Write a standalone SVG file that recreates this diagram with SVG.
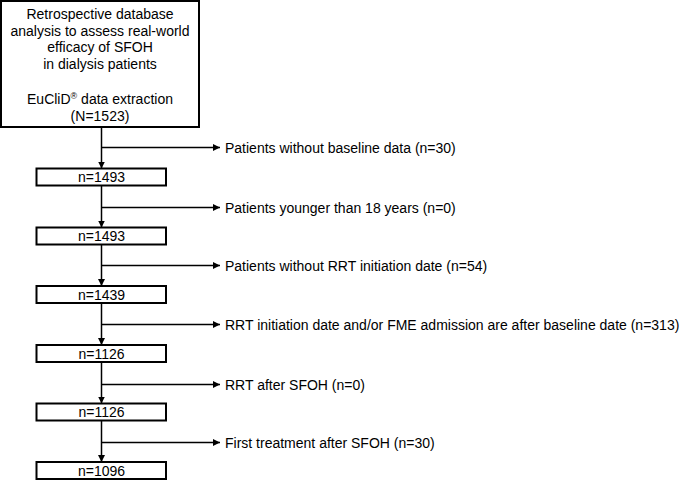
<svg xmlns="http://www.w3.org/2000/svg" width="685" height="481" viewBox="0 0 685 481">
<style>
text{font-family:"Liberation Sans",Arial,sans-serif;font-size:14px;fill:#000}
.c{text-anchor:middle}
.box{fill:#fff;stroke:#000;stroke-width:2}
.ln{fill:none;stroke:#000;stroke-width:1.5}
</style>
<defs>
<marker id="ah" viewBox="0 0 10 10" refX="10" refY="5" markerWidth="7" markerHeight="7" markerUnits="userSpaceOnUse" orient="auto">
<path d="M0,0 L10,5 L0,10 z" fill="#000"/>
</marker>
</defs>
<g id="connectors">
<path class="ln" d="M101.5,127 V168.5" marker-end="url(#ah)"/>
<path class="ln" d="M101.5,186 V227.5" marker-end="url(#ah)"/>
<path class="ln" d="M101.5,244.5 V286" marker-end="url(#ah)"/>
<path class="ln" d="M101.5,303 V345" marker-end="url(#ah)"/>
<path class="ln" d="M101.5,362 V403.5" marker-end="url(#ah)"/>
<path class="ln" d="M101.5,420.5 V462" marker-end="url(#ah)"/>
<path class="ln" d="M101.5,147.5 H220" marker-end="url(#ah)"/>
<path class="ln" d="M101.5,207.5 H220" marker-end="url(#ah)"/>
<path class="ln" d="M101.5,265.5 H220" marker-end="url(#ah)"/>
<path class="ln" d="M101.5,324.5 H220" marker-end="url(#ah)"/>
<path class="ln" d="M101.5,384.5 H220" marker-end="url(#ah)"/>
<path class="ln" d="M101.5,442.5 H220" marker-end="url(#ah)"/>
</g>
<g id="start">
<rect class="box" x="1" y="1" width="198" height="126"/>
<text class="c" x="100" y="19">Retrospective database</text>
<text class="c" x="100" y="35.7">analysis to assess real-world</text>
<text class="c" x="100" y="52.3">efficacy of SFOH</text>
<text class="c" x="100" y="69">in dialysis patients</text>
<text class="c" x="100" y="104">EuCliD<tspan font-size="9" dy="-5">®</tspan><tspan dy="5"> data extraction</tspan></text>
<text class="c" x="100" y="120.7">(N=1523)</text>
</g>
<g id="n1"><rect class="box" x="36.5" y="168.5" width="129.5" height="17"/><text class="c" x="101.5" y="182">n=1493</text></g>
<g id="n2"><rect class="box" x="36.5" y="227.5" width="129.5" height="17"/><text class="c" x="101.5" y="241">n=1493</text></g>
<g id="n3"><rect class="box" x="36.5" y="286" width="129.5" height="17"/><text class="c" x="101.5" y="299.5">n=1439</text></g>
<g id="n4"><rect class="box" x="36.5" y="345" width="129.5" height="17"/><text class="c" x="101.5" y="358.5">n=1126</text></g>
<g id="n5"><rect class="box" x="36.5" y="403.5" width="129.5" height="17"/><text class="c" x="101.5" y="417">n=1126</text></g>
<g id="n6"><rect class="box" x="36.5" y="462" width="129.5" height="17"/><text class="c" x="101.5" y="475.5">n=1096</text></g>
<g id="ex1"><text x="225" y="152.5">Patients without baseline data (n=30)</text></g>
<g id="ex2"><text x="225" y="212.5">Patients younger than 18 years (n=0)</text></g>
<g id="ex3"><text x="225" y="270.5">Patients without RRT initiation date (n=54)</text></g>
<g id="ex4"><text x="225" y="329.5">RRT initiation date and/or FME admission are after baseline date (n=313)</text></g>
<g id="ex5"><text x="225" y="389.5">RRT after SFOH (n=0)</text></g>
<g id="ex6"><text x="225" y="447.5">First treatment after SFOH (n=30)</text></g>
</svg>
